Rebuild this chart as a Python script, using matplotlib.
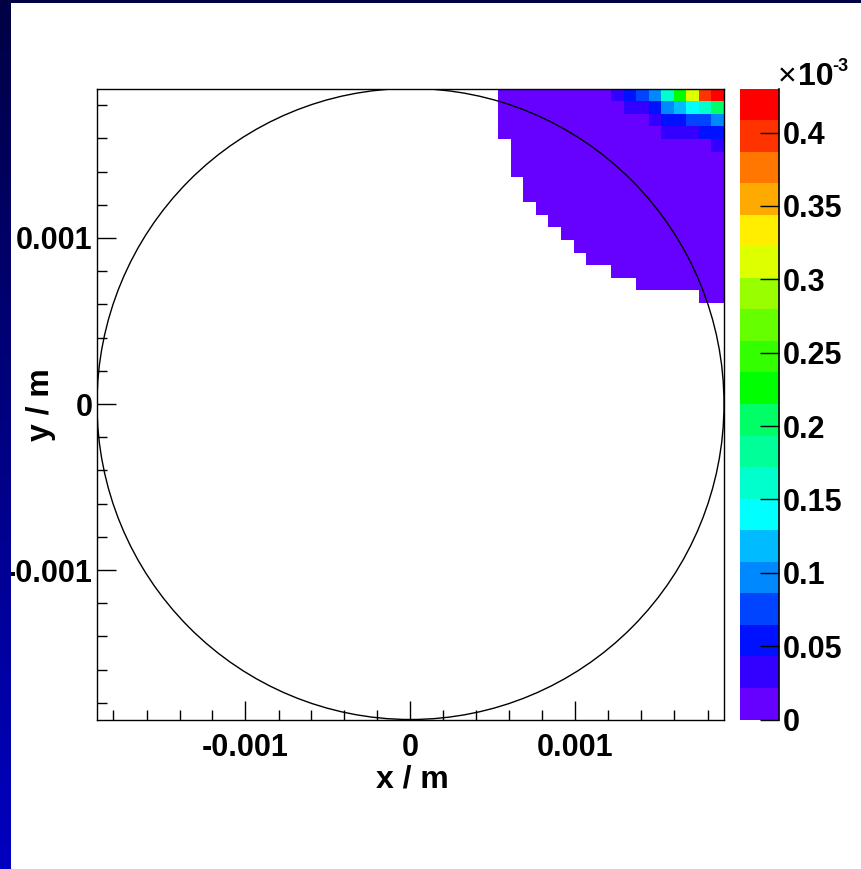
import numpy as np
import matplotlib
matplotlib.use("Agg")
import matplotlib.pyplot as plt
from matplotlib.colors import ListedColormap, BoundaryNorm, LinearSegmentedColormap
from matplotlib.patches import Circle
from matplotlib.lines import Line2D

plt.rcParams['font.family'] = ['Liberation Sans', 'DejaVu Sans']

# ---------------- data ----------------
nbins = 50
xy_range = 0.0019          # m, histogram range +/-
circle_radius = 0.0019     # m
zmax = 0.43                # x1e-3
n_levels = 20

# nonzero (lowest level) region: for each row from top, first filled column (through col 49)
row_start_cols = [32, 32, 32, 32, 33, 33, 33, 34, 34, 35, 36, 37, 38, 39, 41, 43, 48]
base_value = 0.005          # x1e-3 (lowest colour level)

# higher-valued bins near the top-right corner: (row from top, column, value x1e-3)
hot_rows = [0, 0, 0, 0, 0, 0, 0, 0, 0,
            1, 1, 1, 1, 1, 1, 1, 1,
            2, 2, 2, 2, 2, 2,
            3, 3, 3, 3, 3,
            4]
hot_cols = [41, 42, 43, 44, 45, 46, 47, 48, 49,
            42, 43, 44, 45, 46, 47, 48, 49,
            44, 45, 46, 47, 48, 49,
            45, 46, 47, 48, 49,
            49]
hot_vals = [0.032, 0.054, 0.075, 0.097, 0.161, 0.225, 0.311, 0.397, 0.428,
            0.032, 0.032, 0.054, 0.097, 0.118, 0.139, 0.161, 0.204,
            0.032, 0.054, 0.054, 0.075, 0.075, 0.097,
            0.032, 0.032, 0.032, 0.054, 0.054,
            0.032]

palette = ['#6600ff', '#3300ff', '#0011ff', '#0044ff', '#0088ff', '#00bbff',
           '#00ffff', '#00ffcc', '#00ff99', '#00ff66', '#00ff00', '#33ff00',
           '#66ff00', '#99ff00', '#ddff00', '#ffee00', '#ffaa00', '#ff7700',
           '#ff3300', '#ff0000']

cbar_ticks = [0, 0.05, 0.1, 0.15, 0.2, 0.25, 0.3, 0.35, 0.4]
cbar_labels = ['0', '0.05', '0.1', '0.15', '0.2', '0.25', '0.3', '0.35', '0.4']
x_major = [-0.001, 0, 0.001]
x_labels = ['-0.001', '0', '0.001']

# ---------------- build histogram ----------------
H = np.full((nbins, nbins), np.nan)   # [row_from_top, col]
for r, c0 in enumerate(row_start_cols):
    H[r, c0:] = base_value
for r, c, v in zip(hot_rows, hot_cols, hot_vals):
    H[r, c] = v
Hplot = H[::-1, :]   # row index from bottom
edges = np.linspace(-xy_range, xy_range, nbins + 1)

W, Hpx = 861, 869
fig = plt.figure(figsize=(W / 100, Hpx / 100), dpi=100)
fig.patch.set_facecolor('white')

def px_axes(x0, y0, x1, y1, **kw):
    return fig.add_axes([x0 / W, 1 - y1 / Hpx, (x1 - x0) / W, (y1 - y0) / Hpx], **kw)

ax = px_axes(97, 88.5, 724, 719.5)
cmap = ListedColormap(palette)
norm = BoundaryNorm(np.linspace(0, zmax, n_levels + 1), cmap.N)
mesh = ax.pcolormesh(edges, edges, np.ma.masked_invalid(Hplot), cmap=cmap, norm=norm,
                     shading='flat', edgecolors='none', antialiased=False)
ax.add_patch(Circle((0, 0), circle_radius, fill=False, ec='black', lw=1.0, zorder=3))
ax.set_xlim(-xy_range, xy_range)
ax.set_ylim(-xy_range, xy_range)
ax.set_xticks(x_major)
ax.set_xticklabels(x_labels)
ax.set_yticks(x_major)
ax.set_yticklabels(x_labels)
minor = np.arange(-18, 19, 2) * 1e-4
ax.set_xticks(minor, minor=True)
ax.set_yticks(minor, minor=True)
ax.tick_params(which='both', direction='in', top=False, right=False, width=1, color='black')
ax.tick_params(which='major', length=13.5)
ax.tick_params(which='minor', length=7)
ax.tick_params(axis='x', which='major', pad=10, labelsize=22)
ax.tick_params(axis='y', which='major', pad=3, labelsize=22)
for lab in ax.get_xticklabels() + ax.get_yticklabels():
    lab.set_fontweight('bold')
for s in ax.spines.values():
    s.set_linewidth(1.0)
    s.set_color('black')

fig.text(412 / W, 1 - 779 / Hpx, 'x / m', ha='center', va='center', fontsize=23, fontweight='bold')
fig.text(41 / W, 1 - 405 / Hpx, 'y / m', ha='center', va='center', rotation=90,
         fontsize=23, fontweight='bold')

# colour bar
cax = px_axes(740, 88.5, 779, 719.5)
cb = fig.colorbar(mesh, cax=cax, ticks=cbar_ticks)
cb.outline.set_visible(False)
cax.set_yticklabels(cbar_labels)
cax.yaxis.set_ticks_position('right')
cax.tick_params(which='major', direction='in', length=13.5, width=1, pad=3, labelsize=22, color='black')
cax.minorticks_off()
for lab in cax.get_yticklabels():
    lab.set_fontweight('bold')
cax.add_line(Line2D([1, 1], [0, 1], transform=cax.transAxes, color='black', lw=1.2, clip_on=False))

fig.text(778 / W, 1 - 85 / Hpx, '×', ha='left', va='baseline', fontsize=23)
fig.text(798 / W, 1 - 85 / Hpx, '10', ha='left', va='baseline', fontsize=23, fontweight='bold')
fig.text(832 / W, 1 - 71 / Hpx, '-3', ha='left', va='baseline', fontsize=13, fontweight='bold')

# slide background strips (gradient)
bg = LinearSegmentedColormap.from_list('bg', ['#000044', '#0000c0'])
sax = px_axes(0, 0, 11, Hpx, zorder=10)
sax.imshow(np.linspace(0, 1, 256).reshape(-1, 1), aspect='auto', cmap=bg,
           extent=[0, 1, 0, 1], origin='upper')
sax.set_axis_off()
tax = px_axes(0, 0, W, 3, zorder=10)
tax.set_facecolor('#000044')
tax.set_xticks([]); tax.set_yticks([])
for s in tax.spines.values():
    s.set_visible(False)

fig.savefig('out.png', dpi=100)
